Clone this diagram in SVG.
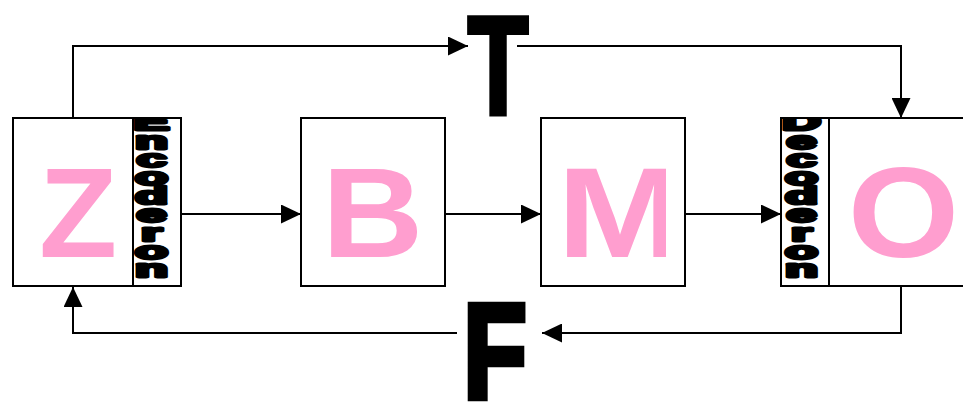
<svg xmlns="http://www.w3.org/2000/svg" width="963" height="403" viewBox="0 0 963 403">
  <style>
    .box { fill: #ffffff; stroke: #000000; stroke-width: 2; }
    .wire { fill: none; stroke: #000000; stroke-width: 2; marker-end: url(#arrow); }
    .big { font-family: "Liberation Sans", Arial, sans-serif; font-weight: bold; font-size: 128px; fill: #ff9ecf; text-anchor: middle; }
    .col { font-family: "Liberation Sans", Arial, sans-serif; font-weight: bold; font-size: 20px; fill: #000000; stroke: #000000; stroke-width: 2.4; stroke-linejoin: round; text-anchor: middle; }
    .sig { font-family: "Liberation Sans", Arial, sans-serif; font-weight: bold; fill: #000000; stroke: #000000; text-anchor: middle; }
  </style>
  <defs>
    <marker id="arrow" viewBox="0 0 20 19" refX="20" refY="9.5" markerWidth="20" markerHeight="19" markerUnits="userSpaceOnUse" orient="auto">
      <path d="M0,0 L20,9.5 L0,19 Z" fill="#000000"/>
    </marker>
    <clipPath id="encClip"><rect x="133" y="119" width="47" height="166"/></clipPath>
    <clipPath id="decClip"><rect x="782" y="119" width="46" height="166"/></clipPath>
    <clipPath id="mClip"><rect x="541" y="119" width="125" height="166"/></clipPath>
  </defs>

  <!-- connectors -->
  <g id="connectors">
    <path class="wire" d="M73,118 V46 H468"/>
    <path class="wire" d="M517,46 H901 V118"/>
    <path class="wire" d="M901,286 V333 H542"/>
    <path class="wire" d="M457,333 H73 V287"/>
    <path class="wire" d="M181,214 H301"/>
    <path class="wire" d="M445,214 H541"/>
    <path class="wire" d="M685,214 H781"/>
  </g>

  <!-- Z block with encoder column -->
  <g id="node-z">
    <rect class="box" x="13" y="118" width="168" height="168"/>
    <line x1="133" y1="118" x2="133" y2="286" stroke="#000000" stroke-width="2"/>
    <text class="big" transform="translate(78,257)">Z</text>
    <g clip-path="url(#encClip)">
      <text class="col" transform="translate(151.5,130) scale(2.7,1.2)">E</text>
      <text class="col" transform="translate(151.5,148.5) scale(2.7,1.2)">n</text>
      <text class="col" transform="translate(151.5,167) scale(2.7,1.2)">c</text>
      <text class="col" transform="translate(151.5,185.3) scale(2.7,1.2)">o</text>
      <text class="col" transform="translate(151.5,203.7) scale(2.7,1.2)">d</text>
      <text class="col" transform="translate(151.5,222.1) scale(2.7,1.2)">e</text>
      <text class="col" transform="translate(151.5,240.5) scale(2.7,1.2)">r</text>
      <text class="col" transform="translate(151.5,258.9) scale(2.7,1.2)">o</text>
      <text class="col" transform="translate(151.5,277.3) scale(2.7,1.2)">n</text>
    </g>
  </g>

  <!-- B block -->
  <g id="node-b">
    <rect class="box" x="301" y="118" width="144" height="168"/>
    <text class="big" transform="translate(372.5,257) scale(1.1,1)">B</text>
  </g>

  <!-- M block -->
  <g id="node-m">
    <rect class="box" x="541" y="118" width="144" height="168"/>
    <g clip-path="url(#mClip)">
      <text class="big" transform="translate(620,257) scale(1.18,1)">M</text>
    </g>
  </g>

  <!-- O block with decoder column -->
  <g id="node-o">
    <rect class="box" x="781" y="118" width="194" height="168"/>
    <line x1="829" y1="118" x2="829" y2="286" stroke="#000000" stroke-width="2"/>
    <text class="big" transform="translate(903.5,257) scale(1.12,1)">O</text>
    <g clip-path="url(#decClip)">
      <text class="col" transform="translate(801.5,130) scale(2.7,1.2)">D</text>
      <text class="col" transform="translate(801.5,148.5) scale(2.7,1.2)">e</text>
      <text class="col" transform="translate(801.5,167) scale(2.7,1.2)">c</text>
      <text class="col" transform="translate(801.5,185.3) scale(2.7,1.2)">o</text>
      <text class="col" transform="translate(801.5,203.7) scale(2.7,1.2)">d</text>
      <text class="col" transform="translate(801.5,222.1) scale(2.7,1.2)">e</text>
      <text class="col" transform="translate(801.5,240.5) scale(2.7,1.2)">r</text>
      <text class="col" transform="translate(801.5,258.9) scale(2.7,1.2)">o</text>
      <text class="col" transform="translate(801.5,277.3) scale(2.7,1.2)">n</text>
    </g>
  </g>

  <!-- T and F signals -->
  <g id="node-t">
    <text class="sig" font-size="100" stroke-width="3" transform="translate(498,116) scale(1,1.41)" y="-1.5">T</text>
  </g>
  <g id="node-f">
    <text class="sig" font-size="104" stroke-width="5" transform="translate(495,398) scale(1,1.3)">F</text>
  </g>
</svg>
